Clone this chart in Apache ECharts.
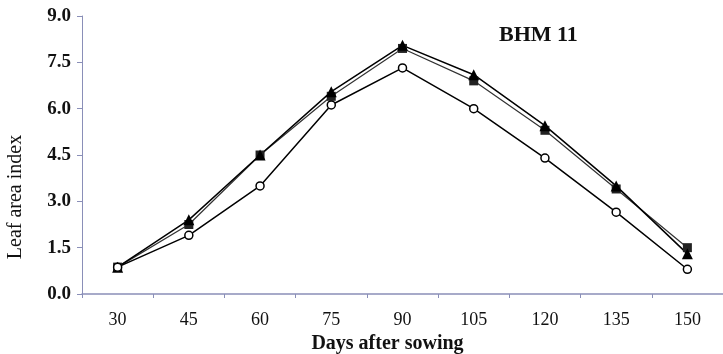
<!DOCTYPE html>
<html><head><meta charset="utf-8">
<script src="https://cdn.jsdelivr.net/npm/echarts@6/dist/echarts.min.js"></script>
<style>html,body{margin:0;padding:0;background:#fff}#c{width:723px;height:354px}</style>
</head><body><div id="c"></div>
<script>
const days = ['30','45','60','75','90','105','120','135','150'];
const yTicks = [0, 1.5, 3, 4.5, 6, 7.5, 9];
const seriesSquare = [0.87, 2.25, 4.5, 6.4, 7.95, 6.9, 5.3, 3.4, 1.5];
const seriesTriangle = [0.87, 2.4, 4.5, 6.55, 8.05, 7.1, 5.45, 3.5, 1.3];
const seriesCircle = [0.87, 1.9, 3.5, 6.12, 7.32, 6.0, 4.4, 2.65, 0.8];

const chart = echarts.init(document.getElementById('c'));
const font = '"Liberation Serif", "DejaVu Serif", serif';
chart.setOption({
  animation: false,
  title: {text: 'BHM 11', left: 494, top: 19, textStyle: {fontFamily: font, fontWeight: 'bold', fontSize: 22, color: '#111'}},
  grid: {left: 82, right: 0, top: 16, bottom: 60, outerBoundsMode: 'none', containLabel: false},
  xAxis: {
    type: 'category', data: days, boundaryGap: true,
    name: 'Days after sowing', nameLocation: 'middle', nameGap: 39,
    nameTextStyle: {fontFamily: font, fontSize: 20, color: '#111', fontWeight: 'bold', padding: [0, 30, 0, 0]},
    axisLine: {lineStyle: {color: '#8a8fb8', width: 1.5}},
    axisTick: {show: true, length: 4, lineStyle: {color: '#8a8fb8'}},
    axisLabel: {fontFamily: font, fontSize: 18, color: '#111', margin: 17}
  },
  yAxis: {
    type: 'value', min: 0, max: 9, interval: 1.5,
    name: 'Leaf area index', nameLocation: 'middle', nameGap: 56,
    nameTextStyle: {fontFamily: font, fontSize: 20, color: '#111', padding: [0, 84, 0, 0]},
    axisLine: {show: true, lineStyle: {color: '#8a8fb8', width: 1}},
    axisTick: {show: true, length: 5, lineStyle: {color: '#8a8fb8'}},
    splitLine: {show: false},
    axisLabel: {fontFamily: font, fontSize: 19, color: '#111', fontWeight: 'bold', margin: 11,
      formatter: v => v.toFixed(1)}
  },
  series: [
    {type: 'line', data: seriesSquare, symbol: 'rect', symbolSize: 9,
     itemStyle: {color: '#222'}, lineStyle: {color: '#333', width: 1.2}},
    {type: 'line', data: seriesTriangle, symbol: 'triangle', symbolSize: 11,
     itemStyle: {color: '#000'}, lineStyle: {color: '#000', width: 1.5}},
    {type: 'line', data: seriesCircle, symbol: 'circle', symbolSize: 8, showAllSymbol: true,
     itemStyle: {color: '#fff', borderColor: '#000', borderWidth: 1.5}, lineStyle: {color: '#000', width: 1.5}}
  ]
});
</script></body></html>
